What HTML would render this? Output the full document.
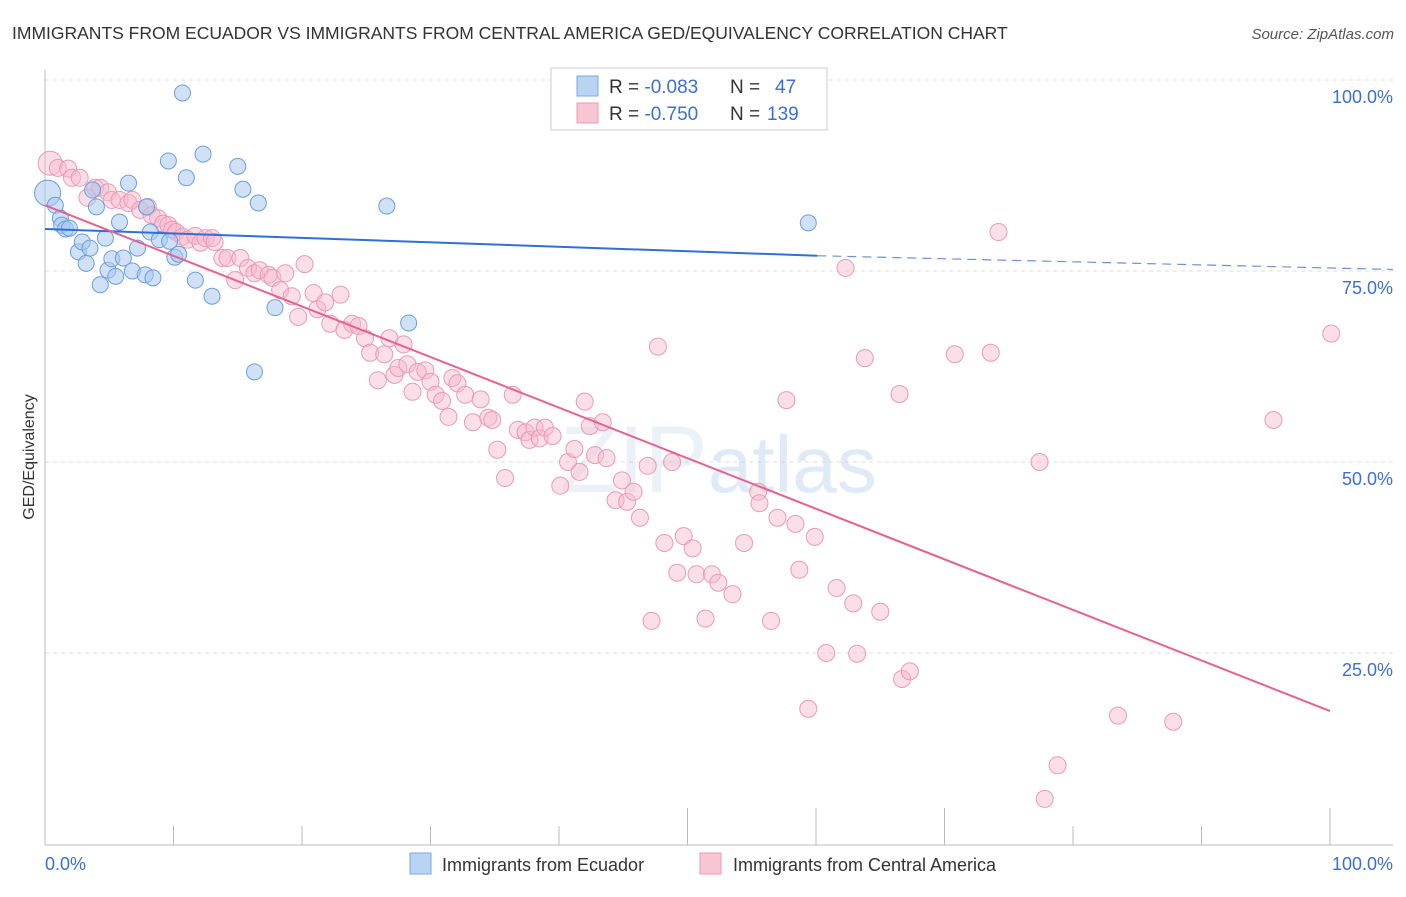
<!DOCTYPE html>
<html><head><meta charset="utf-8"><style>
body{margin:0;background:#fff;font-family:"Liberation Sans",sans-serif;}
svg text{font-family:"Liberation Sans",sans-serif;}
</style></head><body>
<svg id="chart" width="1406" height="892" viewBox="0 0 1406 892" xmlns="http://www.w3.org/2000/svg">
<text x="12" y="39" font-size="17.5" fill="#333">IMMIGRANTS FROM ECUADOR VS IMMIGRANTS FROM CENTRAL AMERICA GED/EQUIVALENCY CORRELATION CHART</text>
<text x="1394" y="39" font-size="15" fill="#555" font-style="italic" text-anchor="end">Source: ZipAtlas.com</text>
<g id="grid"></g>
<g id="axes"></g>
<text x="560" y="492" font-size="95" fill="#c9d6ea" opacity="0.35" font-family="Liberation Serif">ZIP<tspan font-family="Liberation Sans" fill="#a9c3e8" font-size="80">atlas</tspan></text>
<g id="pts"></g>
<g id="trend"></g>
<text transform="translate(34,457) rotate(-90)" font-size="16" fill="#333" text-anchor="middle">GED/Equivalency</text>
<g>
<rect x="551" y="68" width="276" height="62" fill="#fff" stroke="#ccc"/>
<rect x="577" y="76" width="21" height="20" fill="#b9d3f3" stroke="#7aa7e3"/>
<rect x="577" y="103" width="21" height="20" fill="#f8c5d4" stroke="#ec9ab3"/>
<text x="609" y="93" font-size="19" fill="#333">R = <tspan fill="#3b6fd4">-0.083</tspan><tspan x="730">N = </tspan><tspan x="775" fill="#3b6fd4">47</tspan></text>
<text x="609" y="120" font-size="19" fill="#333">R = <tspan fill="#3b6fd4">-0.750</tspan><tspan x="730">N = </tspan><tspan x="767" fill="#3b6fd4">139</tspan></text>
</g>
<g>
<rect x="410" y="853" width="21" height="21" fill="#b9d3f3" stroke="#7aa7e3"/>
<text x="442" y="871" font-size="18" fill="#333">Immigrants from Ecuador</text>
<rect x="700" y="853" width="21" height="21" fill="#f8c5d4" stroke="#ec9ab3"/>
<text x="733" y="871" font-size="18" fill="#333">Immigrants from Central America</text>
</g>
</svg>
<script>
const yTicks=[100,75,50,25];
const yTickLabels=["100.0%","75.0%","50.0%","25.0%"];
const xTickLabels=["0.0%","100.0%"];
const ecuadorX=[0.2,0.8,1.2,1.3,1.6,1.9,2.6,2.9,3.2,3.5,3.7,4.0,4.3,4.7,4.9,5.2,5.5,5.8,6.1,6.5,6.8,7.2,7.8,7.9,8.2,8.4,8.9,9.6,9.7,10.1,10.4,10.7,11.0,11.7,12.3,13.0,15.0,15.4,16.6,17.9,16.3,26.6,28.3,59.4];
const ecuadorY=[85.2,83.6,81.9,81.0,80.5,80.6,77.5,78.8,76.0,78.0,85.6,83.4,73.2,79.3,75.1,76.6,74.3,81.4,76.7,86.5,75.0,78.0,74.5,83.4,80.1,74.1,79.1,89.4,78.9,76.8,77.2,98.3,87.2,73.8,90.3,71.7,88.7,85.7,83.9,70.2,61.8,83.5,68.2,81.3];
const centralX=[0.4,1.0,1.8,2.1,2.7,3.3,3.9,4.3,4.9,5.2,5.8,6.5,6.8,7.4,8.0,8.3,8.8,9.2,9.6,9.9,10.2,10.7,11.1,11.7,12.1,12.5,13.0,13.2,13.8,14.2,14.8,15.2,15.8,16.3,16.7,17.4,17.7,18.3,18.7,19.2,19.7,20.2,20.9,21.2,21.8,22.2,23.0,23.3,23.9,24.4,24.9,25.3,25.9,26.4,26.8,27.2,27.5,27.9,28.2,28.6,29.0,29.6,30.0,30.4,30.9,31.4,31.7,32.1,32.7,33.3,33.9,34.5,34.8,35.2,35.8,36.4,36.8,37.4,37.7,38.1,38.5,38.9,39.5,40.1,40.7,41.2,41.6,42.0,42.4,42.8,43.4,43.7,44.4,44.9,45.3,45.8,46.3,46.9,47.2,47.7,48.2,49.2,48.8,49.7,50.4,50.7,51.4,51.9,52.4,53.5,54.4,55.5,55.6,56.5,57.0,57.7,58.4,58.7,59.4,59.9,60.8,61.6,62.3,62.9,63.2,63.8,65.0,66.5,66.7,67.3,70.8,73.6,74.2,77.4,77.8,78.8,83.5,87.8,95.6,100.1,54.2];
const centralY=[89.1,88.5,88.4,87.2,87.2,84.6,85.9,85.9,85.3,84.3,84.3,83.9,84.3,83.0,83.4,82.3,81.9,81.2,81.0,80.4,80.1,79.5,79.1,79.6,78.7,79.3,79.3,78.8,76.7,76.7,73.8,76.7,75.4,74.7,75.1,74.5,74.1,72.5,74.7,71.7,69.0,75.9,72.1,70.0,70.9,68.1,71.9,67.3,68.1,67.8,66.2,64.3,60.7,64.1,66.2,61.4,62.3,65.4,62.8,59.2,61.8,62.0,60.5,58.8,58.0,55.9,61.0,60.3,58.8,55.2,58.2,55.8,55.5,51.6,47.9,58.8,54.2,53.9,52.9,54.5,53.1,54.5,53.4,46.9,50.0,51.7,48.7,57.9,54.7,50.9,55.2,50.5,45.0,47.6,44.8,46.1,42.7,49.5,29.2,65.1,39.4,35.5,50.0,40.3,38.7,35.3,29.5,35.3,34.2,32.7,39.4,46.1,44.6,29.2,42.7,58.1,41.9,35.9,17.7,40.2,25.0,33.5,75.4,31.5,24.9,63.6,30.4,58.9,21.6,22.6,64.1,64.3,80.1,50.0,5.9,10.3,16.8,16.0,55.5,66.8,99.7];
const ecuadorTrendX=[0,60.1];
const ecuadorTrendY=[80.5,77.0];
const ecuadorTrendExtX=[60.1,104.9];
const ecuadorTrendExtY=[77.0,75.2];
const centralTrendX=[0,100];
const centralTrendY=[83.6,17.4];

const X0=45,X1=1330,Y0=844,Y100=80;
const sx=v=>X0+(X1-X0)*v/100;
const sy=v=>Y0-(Y0-Y100)*v/100;
const NS="http://www.w3.org/2000/svg";
function mk(tag,attrs,parent){const e=document.createElementNS(NS,tag);for(const k in attrs)e.setAttribute(k,attrs[k]);parent.appendChild(e);return e;}
const grid=document.getElementById('grid');
yTicks.forEach((t,i)=>{
  const l=mk('line',{x1:X0,x2:1393,y1:sy(t),y2:sy(t),stroke:'#ddd','stroke-dasharray':'4,4'},grid);
  
  
  const tx=mk('text',{x:1393,y:sy(t)+23,'font-size':18,fill:'#3b6fd4','text-anchor':'end'},grid);
  tx.textContent=yTickLabels[i];
  
  
});
const axes=document.getElementById('axes');
const ax=mk('line',{x1:X0,x2:1393,y1:845,y2:845,stroke:'#bbb'},axes);


const ay=mk('line',{x1:X0,x2:X0,y1:70,y2:845,stroke:'#bbb'},axes);


for(let i=1;i<=10;i++){
  const tall=(i===5||i===6||i===7||i===10);
  const t=mk('line',{x1:sx(i*10),x2:sx(i*10),y1:tall?808:826,y2:845,stroke:'#bbb'},axes);
  
  
}
[[0,'start',X0],[100,'end',1393]].forEach((d,i)=>{
  const t=mk('text',{x:d[2],y:870,'font-size':18,fill:'#3b6fd4','text-anchor':d[1]},axes);
  t.textContent=xTickLabels[i];
  
  
});
const pts=document.getElementById('pts');
centralX.forEach((x,i)=>{
  const c=mk('circle',{cx:sx(x),cy:sy(centralY[i]),r:i===0?12:8.5,fill:'#f6b8cb','fill-opacity':0.45,stroke:'#eb9ab4','stroke-width':1},pts);
  
  
});
ecuadorX.forEach((x,i)=>{
  const c=mk('circle',{cx:sx(x),cy:sy(ecuadorY[i]),r:i===0?13:8,fill:'#a9c8ef','fill-opacity':0.55,stroke:'#6a9ee0','stroke-width':1},pts);
  
  
});
const tr=document.getElementById('trend');
const l1=mk('line',{x1:sx(ecuadorTrendX[0]),y1:sy(ecuadorTrendY[0]),x2:sx(ecuadorTrendX[1]),y2:sy(ecuadorTrendY[1]),stroke:'#2f6fd6','stroke-width':2},tr);


const l2=mk('line',{x1:sx(ecuadorTrendExtX[0]),y1:sy(ecuadorTrendExtY[0]),x2:sx(ecuadorTrendExtX[1]),y2:sy(ecuadorTrendExtY[1]),stroke:'#6a93cf','stroke-width':1.2,'stroke-dasharray':'9,6'},tr);


const l3=mk('line',{x1:sx(centralTrendX[0]),y1:sy(centralTrendY[0]),x2:sx(centralTrendX[1]),y2:sy(centralTrendY[1]),stroke:'#e8608f','stroke-width':2},tr);


</script>
</body></html>
